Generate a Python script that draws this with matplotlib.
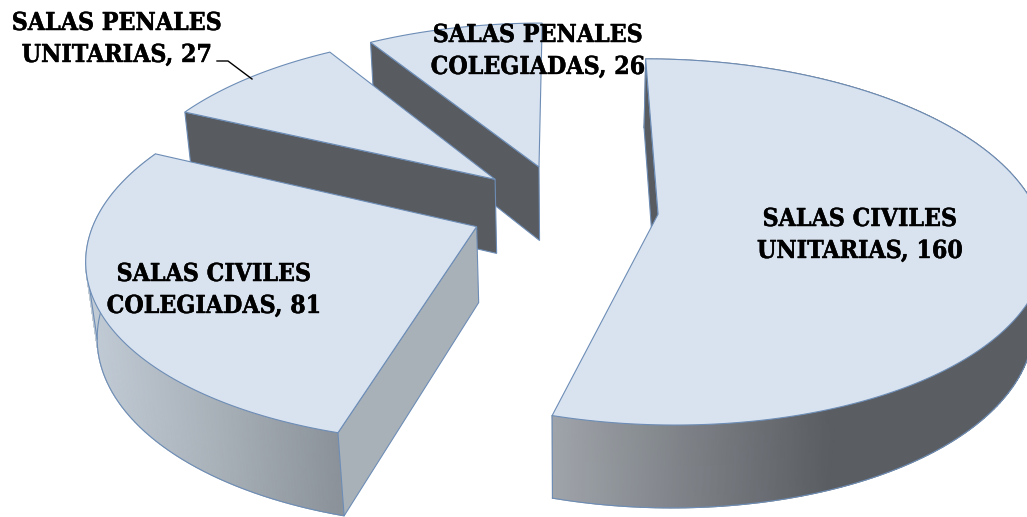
import numpy as np
import matplotlib.pyplot as plt
import matplotlib.patheffects as pe
from matplotlib.colors import LinearSegmentedColormap

# datos del grafico
categorias = ['SALAS CIVILES\nUNITARIAS', 'SALAS CIVILES\nCOLEGIADAS',
              'SALAS PENALES\nUNITARIAS', 'SALAS PENALES\nCOLEGIADAS']
valores = [160, 81, 27, 26]

# estilo de cada porcion
colorCorte = ['#585b60', '#a9b1b8', '#585b60', '#585b60']
gradiente = [['#a0a5ab', '#5a5d62'],
             ['#c2ccd6', '#a9b1b9', '#8b929a'],
             None,
             None]
rangoGrad = [(552, 830), (90, 340), None, None]
posTexto = [(860, 235), (214, 290), (117, 39), (538, 51)]
colorTapa = '#d9e3f0'
colorBorde = '#6d8db6'

# proyeccion en perspectiva, en pixeles
cx, cy = 564, 208
A, B = 378, 177
p = 0.151
q = 0.0235
alto = 77
explota = 0.25

def proy(X, Y, abajo=False):
    if abajo:
        w = 1 + p * Y + q
        return cx + A * X / w, cy + (-B * Y + alto) / w
    w = 1 + p * Y
    return cx + A * X / w, cy - B * Y / w

fig = plt.figure(figsize=(10.27, 5.17), dpi=100)
ax = fig.add_axes([0, 0, 1, 1])
ax.set_xlim(0, 1027)
ax.set_ylim(517, 0)
ax.axis('off')

angulos = np.concatenate([[0], np.cumsum(valores)]) / np.sum(valores) * 2 * np.pi
z = 1
# se dibuja de atras hacia adelante
for i in [3, 2, 1, 0]:
    a0, a1 = angulos[i], angulos[i + 1]
    medio = (a0 + a1) / 2
    ex, ey = explota * np.sin(medio), explota * np.cos(medio)
    t = np.linspace(a0, a1, 200)
    X = ex + np.sin(t)
    Y = ey + np.cos(t)
    xTop, yTop = proy(X, Y)
    xBot, yBot = proy(X, Y, True)
    xA, yA = proy(ex, ey)
    xB, yB = proy(ex, ey, True)

    # pared exterior con degradado horizontal (las de atras no se ven)
    if gradiente[i] is not None:
        cmap = LinearSegmentedColormap.from_list('g', gradiente[i])
        mx = np.vstack([xTop, xBot])
        my = np.vstack([yTop, yBot])
        ax.pcolormesh(mx, my, mx, shading='gouraud', cmap=cmap,
                      vmin=rangoGrad[i][0], vmax=rangoGrad[i][1], zorder=z)
        ax.plot(xBot, yBot, color=colorBorde, lw=0.8, zorder=z + 1)
        k = np.argmin(xBot)
        ax.plot([xTop[k], xBot[k]], [yTop[k], yBot[k]], color=colorBorde, lw=0.8, zorder=z + 1)

    # cara del corte
    ax.fill([xTop[0], xA, xB, xBot[0]], [yTop[0], yA, yB, yBot[0]],
            facecolor=colorCorte[i], edgecolor=colorBorde, lw=0.8, zorder=z + 2)

    # tapa
    ax.fill(np.r_[xA, xTop], np.r_[yA, yTop], facecolor=colorTapa,
            edgecolor=colorBorde, lw=0.8, zorder=z + 3)
    z += 4

for i in range(4):
    ax.text(posTexto[i][0], posTexto[i][1], f'{categorias[i]}, {valores[i]}',
            ha='center', va='center', family='DejaVu Serif', stretch='condensed',
            weight='bold', fontsize=17.8, linespacing=1.42, color='black', zorder=z,
            path_effects=[pe.withStroke(linewidth=0.3, foreground='black')])

# linea guia de SALAS PENALES UNITARIAS
ax.plot([217, 228, 252], [61, 61, 79], color='black', lw=1, zorder=z)

fig.savefig('out.png', dpi=100)
